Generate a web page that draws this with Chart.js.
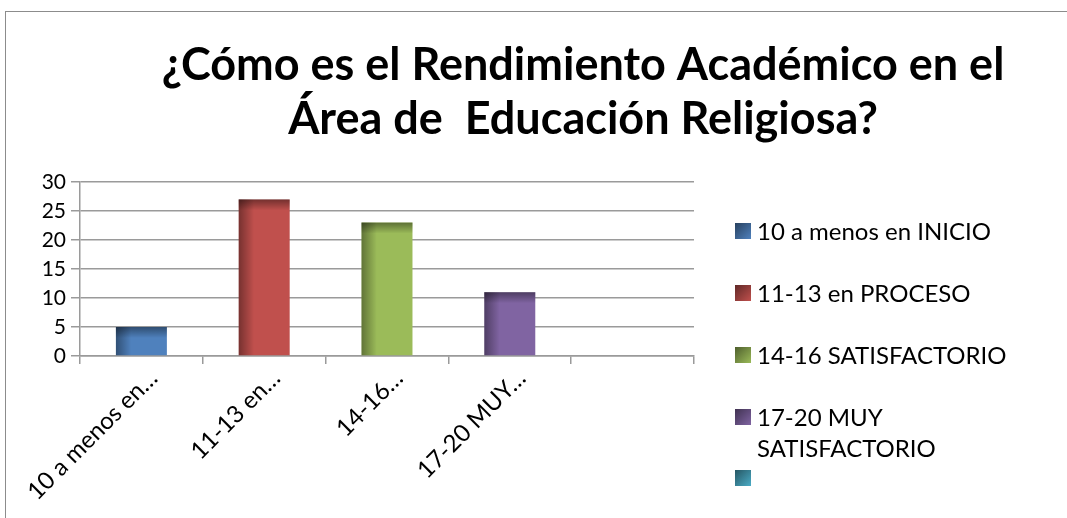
<!DOCTYPE html>
<html lang="es">
<head>
<meta charset="utf-8">
<script src="https://cdn.jsdelivr.net/npm/chart.js@4.4.0/dist/chart.umd.min.js"></script>
<style>
    html, body { margin: 0; padding: 0; background: #fff; }
    #marco { position: relative; width: 1067px; height: 518px; overflow: hidden; }
    #grafica { position: absolute; left: 0; top: 0; }
    /* borde del objeto grafico (solo arriba e izquierda se ven) */
    #borde { position: absolute; left: 5px; top: 11px; width: 1100px; height: 600px;
             border-top: 1.5px solid #8c8c8c; border-left: 1.5px solid #8c8c8c; }
</style>
</head>
<body>
<div id="marco">
    <canvas id="grafica" width="1067" height="518"></canvas>
    <div id="borde"></div>
</div>
<script>
// Datos de la grafica
const categorias = ['10 a menos en INICIO', '11-13 en PROCESO', '14-16 SATISFACTORIO', '17-20 MUY SATISFACTORIO', ''];
const etiquetasEje = ['10 a menos en…', '11-13 en…', '14-16…', '17-20 MUY…', ''];
const valores = [5, 27, 23, 11, null];
const colores = ['#4F81BD', '#C0504D', '#9BBB59', '#8064A2', '#4BACC6'];
const ticksY = [0, 5, 10, 15, 20, 25, 30];
const tituloLineas = ['¿Cómo es el Rendimiento Académico en el', 'Área de  Educación Religiosa?'];
const leyendaLineas = [['10 a menos en INICIO'], ['11-13 en PROCESO'], ['14-16 SATISFACTORIO'], ['17-20 MUY', 'SATISFACTORIO'], ['']];

const FUENTE = 'Lato, Carlito, Calibri, sans-serif';
const GRIS = '#9a9a9a';

// Oscurece un color hex
function oscurecer(hex, f) {
    const n = parseInt(hex.slice(1), 16);
    const r = Math.round(((n >> 16) & 255) * f);
    const g = Math.round(((n >> 8) & 255) * f);
    const b = Math.round((n & 255) * f);
    return `rgb(${r},${g},${b})`;
}

// Titulo en dos lineas (centrado como en el original)
const tituloPlugin = {
    id: 'tituloPlugin',
    afterDraw(chart) {
        const ctx = chart.ctx;
        ctx.save();
        ctx.fillStyle = '#000';
        ctx.font = `bold 45px ${FUENTE}`;
        ctx.textAlign = 'center';
        ctx.textBaseline = 'alphabetic';
        ctx.fillText(tituloLineas[0], 583, 80);
        ctx.fillText(tituloLineas[1], 583, 134);
        ctx.restore();
    }
};

// Sombreado de las barras (estilo Excel 2007)
const sombraPlugin = {
    id: 'sombraPlugin',
    afterDatasetsDraw(chart) {
        const ctx = chart.ctx;
        const meta = chart.getDatasetMeta(0);
        meta.data.forEach((barra, i) => {
            if (valores[i] === null) return;
            const { x, y, base, width } = barra.getProps(['x', 'y', 'base', 'width'], true);
            const izq = x - width / 2;
            ctx.save();
            let g = ctx.createLinearGradient(izq, 0, izq + width * 0.3, 0);
            g.addColorStop(0, 'rgba(0,0,0,0.38)');
            g.addColorStop(1, 'rgba(0,0,0,0)');
            ctx.fillStyle = g;
            ctx.fillRect(izq, y, width * 0.3, base - y);
            g = ctx.createLinearGradient(0, y, 0, y + 11);
            g.addColorStop(0, 'rgba(0,0,0,0.4)');
            g.addColorStop(1, 'rgba(0,0,0,0)');
            ctx.fillStyle = g;
            ctx.fillRect(izq, y, width, Math.min(11, base - y));
            ctx.restore();
        });
    }
};

// Leyenda a la derecha
const leyendaPlugin = {
    id: 'leyendaPlugin',
    afterDraw(chart) {
        const ctx = chart.ctx;
        const centros = [231, 293, 355, 417, 478];
        ctx.save();
        ctx.font = `24px ${FUENTE}`;
        ctx.textBaseline = 'middle';
        ctx.textAlign = 'left';
        categorias.forEach((cat, i) => {
            const cy = centros[i];
            const g = ctx.createLinearGradient(735, cy - 8, 751, cy + 8);
            g.addColorStop(0, oscurecer(colores[i], 0.5));
            g.addColorStop(1, colores[i]);
            ctx.fillStyle = g;
            ctx.fillRect(735, cy - 8, 16, 16);
            ctx.fillStyle = '#000';
            leyendaLineas[i].forEach((t, k) => ctx.fillText(t, 757, cy + 1 + k * 31));
        });
        ctx.restore();
    }
};

new Chart(document.getElementById('grafica'), {
    type: 'bar',
    data: {
        labels: categorias,
        datasets: [{
            data: valores,
            backgroundColor: colores,
            borderWidth: 0,
            categoryPercentage: 1,
            barPercentage: 0.415
        }]
    },
    options: {
        responsive: false,
        animation: false,
        layout: { padding: { top: 182, right: 373, left: 8, bottom: 0 } },
        plugins: {
            legend: { display: false },
            title: { display: false },
            tooltip: { enabled: false }
        },
        scales: {
            x: {
                afterFit: s => { s.height = 162; },
                grid: { drawOnChartArea: false, tickLength: 8, color: GRIS, lineWidth: 1.5 },
                border: { display: true, color: GRIS, width: 1.5 },
                ticks: {
                    color: '#000',
                    font: { family: FUENTE, size: 24 },
                    minRotation: 45, maxRotation: 45,
                    autoSkip: false,
                    labelOffset: 12,
                    padding: 0,
                    callback: (v, i) => etiquetasEje[i]
                }
            },
            y: {
                min: ticksY[0],
                max: ticksY[ticksY.length - 1],
                afterFit: s => { s.width = 72; },
                grid: { color: GRIS, lineWidth: 1.5, tickLength: 9 },
                border: { display: true, color: GRIS, width: 1.5 },
                ticks: {
                    stepSize: ticksY[1] - ticksY[0],
                    autoSkip: false,
                    color: '#000',
                    padding: 5,
                    font: { family: FUENTE, size: 21 }
                }
            }
        }
    },
    plugins: [sombraPlugin, tituloPlugin, leyendaPlugin]
});
</script>
</body>
</html>
